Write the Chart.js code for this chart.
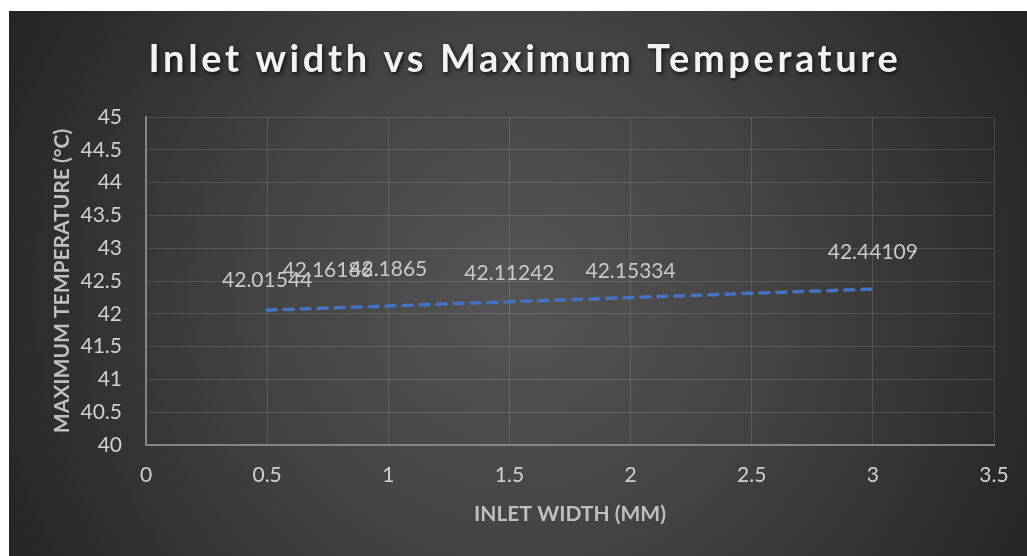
<!DOCTYPE html>
<html>
<head>
<meta charset="utf-8">
<title>Inlet width vs Maximum Temperature</title>
<script src="https://cdn.jsdelivr.net/npm/chart.js@4.4.1/dist/chart.umd.min.js"></script>
<style>
  html, body { margin: 0; padding: 0; background: #ffffff; }
  #wrap { position: absolute; left: 0; top: 0; width: 1027px; height: 556px; }
</style>
</head>
<body>
<div id="wrap"><canvas id="chart" width="1027" height="556"></canvas></div>
<script>
// Measured maximum temperature for each inlet width
const inletWidth = [0.5, 0.75, 1, 1.5, 2, 3];
const maxTemperature = [42.01544, 42.16186, 42.1865, 42.11242, 42.15334, 42.44109];
const valueLabels = ['42.01544', '42.16186', '42.1865', '42.11242', '42.15334', '42.44109'];

// Axis ranges and tick steps
const xRange = [0, 3.5];
const yRange = [40, 45];
const tickStep = 0.5;

const chartTitle = 'Inlet width vs Maximum Temperature';
const xTitle = 'INLET WIDTH (MM)';
const yTitle = 'MAXIMUM TEMPERATURE (°C)';

// Least-squares linear trendline over the measured points
function linearFit(xs, ys) {
  const n = xs.length;
  const mx = xs.reduce((a, b) => a + b, 0) / n;
  const my = ys.reduce((a, b) => a + b, 0) / n;
  let sxy = 0, sxx = 0;
  for (let i = 0; i < n; i++) {
    sxy += (xs[i] - mx) * (ys[i] - my);
    sxx += (xs[i] - mx) * (xs[i] - mx);
  }
  const slope = sxy / sxx;
  return { slope, intercept: my - slope * mx };
}
const fit = linearFit(inletWidth, maxTemperature);
const xMin = Math.min(...inletWidth), xMax = Math.max(...inletWidth);
const trendPoints = [xMin, xMax].map(x => ({ x, y: fit.intercept + fit.slope * x }));
const measuredPoints = inletWidth.map((x, i) => ({ x, y: maxTemperature[i] }));

const FONT = 'Lato, "Open Sans", "Liberation Sans", sans-serif';
const plainNumber = v => String(Math.round(v * 100) / 100);

// Dark radial backdrop behind the whole chart
const backdrop = {
  id: 'backdrop',
  beforeDraw(chart) {
    const { ctx, width, height } = chart;
    const x0 = 9, y0 = 11;
    ctx.save();
    const cx = (x0 + width) / 2, cy = (y0 + height) / 2 + 10;
    const g = ctx.createRadialGradient(cx, cy, 0, cx, cy, 580);
    g.addColorStop(0, '#555555');
    g.addColorStop(0.45, '#434343');
    g.addColorStop(1, '#242424');
    ctx.fillStyle = g;
    ctx.fillRect(x0, y0, width - x0, height - y0);
    ctx.restore();
  }
};

// Chart heading with spaced letters and a soft shadow
const heading = {
  id: 'heading',
  afterDraw(chart) {
    const { ctx } = chart;
    ctx.save();
    ctx.font = 'bold 38px ' + FONT;
    ctx.letterSpacing = '3.6px';
    ctx.textAlign = 'center';
    ctx.textBaseline = 'alphabetic';
    ctx.fillStyle = '#f2f2f2';
    ctx.shadowColor = 'rgba(0,0,0,0.75)';
    ctx.shadowBlur = 4;
    ctx.shadowOffsetX = 1.5;
    ctx.shadowOffsetY = 2;
    ctx.fillText(chartTitle, 525, 72);
    ctx.restore();
  }
};

// Value labels above each measured point
const valueTags = {
  id: 'valueTags',
  afterDatasetsDraw(chart) {
    const { ctx } = chart;
    const meta = chart.getDatasetMeta(0);
    ctx.save();
    ctx.font = '21px ' + FONT;
    ctx.fillStyle = '#c9c9c9';
    ctx.textAlign = 'center';
    ctx.textBaseline = 'alphabetic';
    meta.data.forEach((pt, i) => {
      ctx.fillText(valueLabels[i], pt.x, pt.y - 26);
    });
    ctx.restore();
  }
};

const gridColor = 'rgba(255,255,255,0.13)';
const axisColor = '#858585';

new Chart(document.getElementById('chart'), {
  type: 'scatter',
  data: {
    datasets: [
      {
        label: 'Maximum temperature',
        data: measuredPoints,
        pointRadius: 0,
        pointHoverRadius: 0,
        showLine: false
      },
      {
        label: 'Linear trend',
        data: trendPoints,
        showLine: true,
        pointRadius: 0,
        borderColor: '#4472C4',
        borderWidth: 3.5,
        borderDash: [9, 8],
        borderCapStyle: 'round',
        fill: false
      }
    ]
  },
  options: {
    responsive: false,
    animation: false,
    devicePixelRatio: 1,
    layout: { padding: { top: 117, right: 33, bottom: 0, left: 0 } },
    plugins: {
      legend: { display: false },
      title: { display: false },
      tooltip: { enabled: false }
    },
    scales: {
      x: {
        type: 'linear',
        min: xRange[0],
        max: xRange[1],
        ticks: {
          stepSize: tickStep,
          autoSkip: false,
          maxRotation: 0,
          padding: 18,
          color: '#d0d0d0',
          font: { family: FONT, size: 21 },
          callback: plainNumber
        },
        grid: { color: gridColor, lineWidth: 1, drawTicks: false },
        border: { display: true, color: axisColor, width: 2 },
        title: {
          display: true,
          text: xTitle,
          color: '#bfbfbf',
          font: { family: FONT, size: 21, weight: 'bold' },
          padding: { top: 0, bottom: 29 }
        },
        afterFit(scale) {
          scale.height = 111;
          scale.paddingLeft = 0;
          scale.paddingRight = 0;
        }
      },
      y: {
        type: 'linear',
        min: yRange[0],
        max: yRange[1],
        ticks: {
          stepSize: tickStep,
          autoSkip: false,
          padding: 24,
          color: '#d0d0d0',
          font: { family: FONT, size: 21 },
          callback: plainNumber
        },
        grid: { color: gridColor, lineWidth: 1, drawTicks: false },
        border: { display: true, color: axisColor, width: 2 },
        title: {
          display: true,
          text: yTitle,
          color: '#bfbfbf',
          font: { family: FONT, size: 21, weight: 'bold' },
          padding: { top: 50, bottom: 0 }
        },
        afterFit(scale) {
          scale.width = 146;
          scale.paddingTop = 0;
          scale.paddingBottom = 0;
        }
      }
    }
  },
  plugins: [backdrop, heading, valueTags]
});
</script>
</body>
</html>
